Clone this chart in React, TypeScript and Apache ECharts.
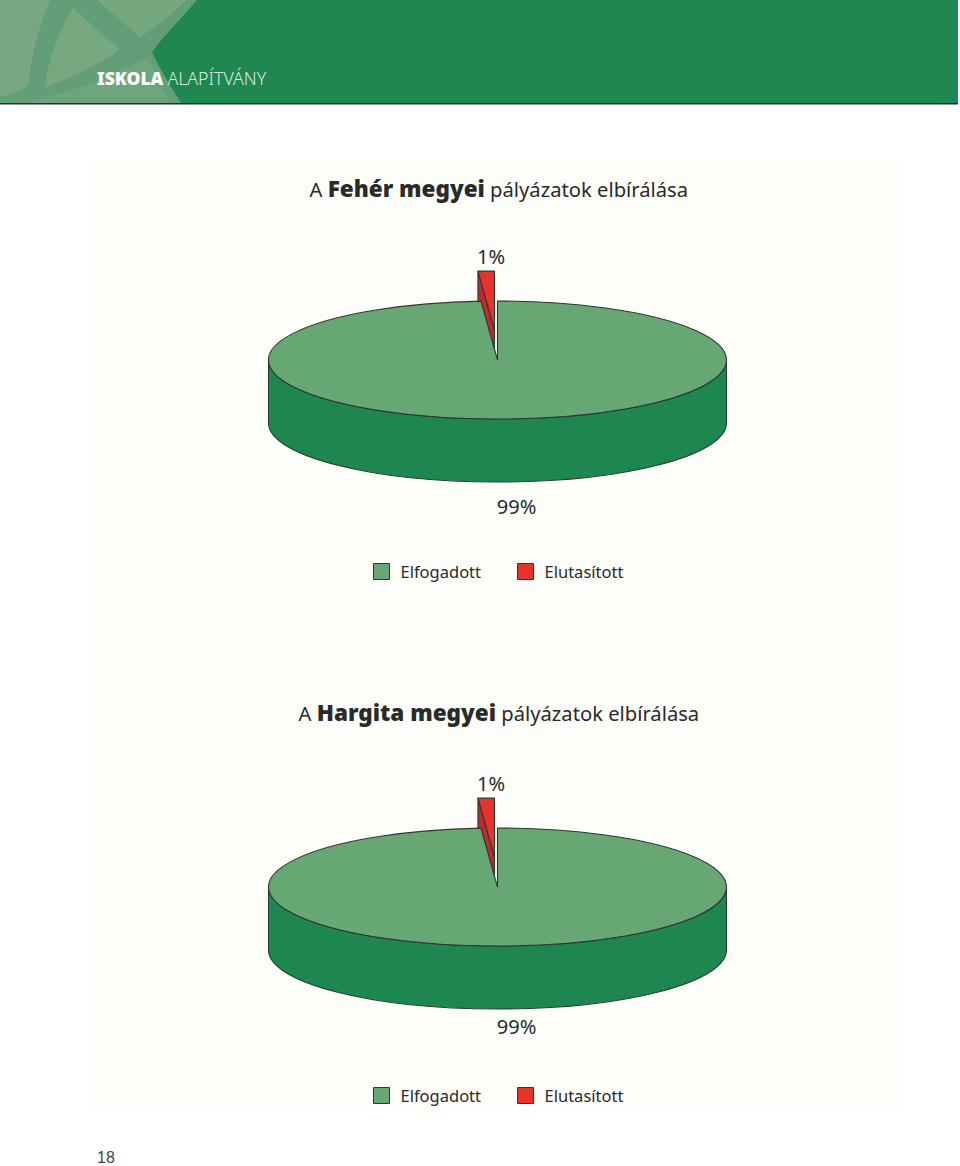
import React, { useEffect, useRef } from "react";
import * as echarts from "echarts";

const categories = ["Elfogadott", "Elutasított"];
const feherValues = [98.85, 1.15];
const hargitaValues = [98.85, 1.15];
const titlePrefix = "A ";
const titleSuffix = " pályázatok elbírálása";
const feherName = "Fehér megyei";
const hargitaName = "Hargita megyei";
const headerBold = "ISKOLA";
const headerLight = "ALAPÍTVÁNY";
const pageNumber = "18";

const FONT = "'Noto Sans', 'Open Sans', sans-serif";
const INK = "#2b3a30";
const GREEN_TOP = "#67a773";
const GREEN_SIDE = "#1e874f";
const RED_TOP = "#e8322c";
const RED_SIDE = "#bd2b2c";
const BANNER = "#1e8850";

const RX = 229, RY = 59, DEPTH = 63, CX = 497.5;
const EXPLODE_X = -3, EXPLODE_Y = -30;

echarts.graphic.registerShape("bannerBand", echarts.graphic.extendPath("M0 0 L197 0 C178 22 162 38 152 52 C160 70 172 88 181 103 L0 103 Z", {}));
echarts.graphic.registerShape("bannerLeft", echarts.graphic.extendPath("M0 0 L50 0 C38 28 31 58 28 86 C18 92 8 95 0 97 Z", {}));
echarts.graphic.registerShape("bannerTri", echarts.graphic.extendPath("M73 8 L120 50 C96 66 72 78 45 87 C48 60 58 32 73 8 Z", {}));
echarts.graphic.registerShape("bannerTop", echarts.graphic.extendPath("M97 0 L186 0 C170 16 155 27 140 37 Z", {}));
echarts.graphic.registerShape("bannerLow", echarts.graphic.extendPath("M48 97 C85 88 118 72 147 58 C155 72 162 88 170 103 L30 103 Z", {}));

const pt = (cy: number, frac: number) => {
  const a = frac * 2 * Math.PI;
  return [CX + RX * Math.sin(a), cy - RY * Math.cos(a)];
};

function bigSlice(values: number[], idx: number, cy: number, labelY: number, labelX: number) {
  const total = values.reduce((s, v) => s + v, 0);
  const end = values[idx] / total;
  const [ex, ey] = pt(cy, end);
  const line = { stroke: INK, lineWidth: 1.1 };
  return () => ({
    type: "group",
    children: [
      {
        type: "path",
        shape: {
          pathData: `M${CX - RX} ${cy} A${RX} ${RY} 0 0 0 ${CX + RX} ${cy} L${CX + RX} ${cy + DEPTH} A${RX} ${RY} 0 0 1 ${CX - RX} ${cy + DEPTH} Z`,
        },
        style: { fill: GREEN_SIDE, ...line },
      },
      {
        type: "path",
        shape: {
          pathData: `M${CX} ${cy} L${CX} ${cy - RY} A${RX} ${RY} 0 1 1 ${ex} ${ey} Z`,
        },
        style: { fill: GREEN_TOP, ...line },
      },
      {
        type: "text",
        x: labelX,
        y: labelY,
        style: {
          text: `${Math.round(end * 100)}%`,
          fill: "#2a2a2a",
          font: `20px ${FONT}`,
          textAlign: "center",
          textVerticalAlign: "middle",
        },
      },
    ],
  });
}

function explodedSlice(values: number[], idx: number, cy: number, labelY: number, labelX: number) {
  const total = values.reduce((s, v) => s + v, 0);
  const start = 1 - values[idx] / total;
  const [sx, sy] = pt(cy, start);
  const ox = EXPLODE_X, oy = EXPLODE_Y;
  const a = [CX + ox, cy + oy];
  const b = [sx + ox, sy + oy];
  const c = [CX + ox, cy - RY + oy];
  const line = { stroke: INK, lineWidth: 1.1 };
  return () => ({
    type: "group",
    children: [
      {
        type: "path",
        shape: {
          pathData: `M${b[0]} ${b[1]} L${a[0]} ${a[1]} L${a[0]} ${a[1] + DEPTH} L${b[0]} ${b[1] + DEPTH} Z`,
        },
        style: { fill: RED_SIDE, ...line },
      },
      {
        type: "path",
        shape: {
          pathData: `M${a[0]} ${a[1]} L${b[0]} ${b[1]} A${RX} ${RY} 0 0 1 ${c[0]} ${c[1]} Z`,
        },
        style: { fill: RED_TOP, ...line },
      },
      {
        type: "text",
        x: labelX,
        y: labelY,
        style: {
          text: `${Math.round((1 - start) * 100)}%`,
          fill: "#2a2a2a",
          font: `20px ${FONT}`,
          textAlign: "center",
          textVerticalAlign: "middle",
        },
      },
    ],
  });
}

function pieSeries(values: number[], cy: number, bigLabelY: number, smallLabelY: number) {
  return [
    {
      type: "custom",
      name: categories[1],
      coordinateSystem: "none",
      silent: true,
      itemStyle: { color: RED_TOP },
      data: [values[1]],
      renderItem: explodedSlice(values, 1, cy, smallLabelY, 491),
    },
    {
      type: "custom",
      name: categories[0],
      coordinateSystem: "none",
      silent: true,
      itemStyle: { color: GREEN_TOP },
      data: [values[0]],
      renderItem: bigSlice(values, 0, cy, bigLabelY, 516.5),
    },
  ];
}

function legendAt(top: number, padTop: number) {
  return {
    left: 373,
    top,
    orient: "horizontal",
    itemWidth: 16,
    itemHeight: 16,
    itemGap: 36,
    selectedMode: false,
    icon: "rect",
    textStyle: { fontFamily: FONT, fontSize: 16.5, color: "#2a2a2a", padding: [padTop, 0, 0, 6] },
    padding: 0,
    data: [
      { name: categories[0], itemStyle: { color: GREEN_TOP, borderColor: INK, borderWidth: 1 } },
      { name: categories[1], itemStyle: { color: RED_TOP, borderColor: INK, borderWidth: 1 } },
    ],
  };
}

function titleAt(left: number, top: number, name: string) {
  return {
    left,
    top,
    padding: 0,
    text: `{a|${titlePrefix}}{b|${name}}{a|${titleSuffix}}`,
    textStyle: {
      rich: {
        a: { fontFamily: FONT, fontSize: 20.2, fontWeight: 400, color: "#2a2a2a" },
        b: { fontFamily: FONT, fontSize: 22.5, fontWeight: 900, color: "#2a2a2a" },
      },
    },
  };
}

export default function App() {
  const ref = useRef<HTMLDivElement>(null);
  useEffect(() => {
    document.body.style.margin = "0";
    document.body.style.overflow = "hidden";
    const chart = echarts.init(ref.current!, null, { renderer: "svg" });
    chart.setOption({
      animation: false,
      backgroundColor: "#ffffff",
      title: [titleAt(309.5, 177, feherName), titleAt(298.5, 701, hargitaName)],
      legend: [legendAt(563, 9), legendAt(1087, 7)],
      graphic: [
        { type: "rect", z: 0, shape: { x: 95, y: 160, width: 806, height: 953 }, style: { fill: "#fdfefa" } },
        { type: "rect", z: 0, shape: { x: 0, y: 0, width: 958, height: 103 }, style: { fill: BANNER } },
        { type: "rect", z: 0, shape: { x: 0, y: 103, width: 958, height: 1.5 }, style: { fill: "#26352c" } },
        { type: "bannerBand", z: 0, x: 0, y: 0, style: { fill: "#629f78" } },
        { type: "bannerLeft", z: 0, x: 0, y: 0, style: { fill: "#7aa783" } },
        { type: "bannerTri", z: 0, x: 0, y: 0, style: { fill: "#78a880" } },
        { type: "bannerTop", z: 0, x: 0, y: 0, style: { fill: "#76a880" } },
        { type: "bannerLow", z: 0, x: 0, y: 0, style: { fill: "#6fa57c" } },
        {
          type: "text", z: 1, x: 97, y: 78,
          style: { text: headerBold, fill: "#ffffff", font: `900 17.5px ${FONT}`, textVerticalAlign: "middle" },
        },
        {
          type: "text", z: 1, x: 167.5, y: 78,
          style: { text: headerLight, fill: "#dcebe0", font: `300 17.7px ${FONT}`, textVerticalAlign: "middle" },
        },
        {
          type: "text", z: 1, x: 97, y: 1157,
          style: { text: pageNumber, fill: "#444444", font: `16px 'Liberation Sans', sans-serif`, textVerticalAlign: "middle" },
        },
      ],
      series: [...pieSeries(feherValues, 360, 506, 256), ...pieSeries(hargitaValues, 887, 1026, 783)],
    });
    return () => chart.dispose();
  }, []);
  return <div ref={ref} style={{ width: 960, height: 1166 }} />;
}
